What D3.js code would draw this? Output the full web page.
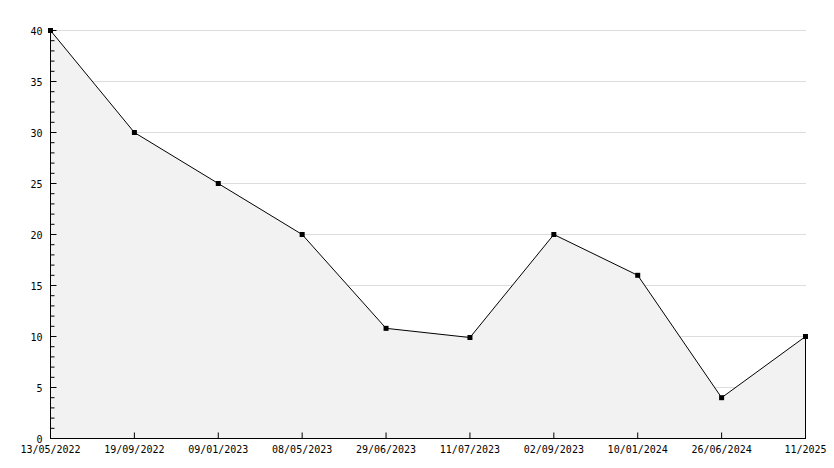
<!DOCTYPE html>
<html><head><meta charset="utf-8">
<script src="https://cdn.jsdelivr.net/npm/d3@7"></script>
<style>body{margin:0;background:#fff}text{font-family:"DejaVu Sans Mono",monospace;font-size:10px}</style>
</head><body>
<svg id="chart" width="834" height="468"></svg>
<script>
var dates = ["13/05/2022","19/09/2022","09/01/2023","08/05/2023","29/06/2023","11/07/2023","02/09/2023","10/01/2024","26/06/2024","11/2025"];
var values = [40, 30, 25, 20, 10.8, 9.9, 20, 16, 4, 10];
var yTicks = [0,5,10,15,20,25,30,35,40];

var svg = d3.select("#chart");
var x = d3.scalePoint().domain(dates).range([50.5, 805.5]);
var y = d3.scaleLinear().domain([0, 40]).range([438.5, 30.5]);

// grid
svg.append("g").selectAll("line").data(yTicks.slice(1)).join("line")
  .attr("x1", 50).attr("x2", 806).attr("y1", d => y(d)).attr("y2", d => y(d))
  .attr("stroke", "#ddd");

var area = d3.area().x((d,i) => x(dates[i])).y0(y(0)).y1(d => y(d));
svg.append("path").datum(values).attr("d", area).attr("fill", "#f2f2f2");
svg.append("line").attr("x1", x(dates[9])).attr("x2", x(dates[9]))
  .attr("y1", y(values[9])).attr("y2", y(0)).attr("stroke", "#000");

// y axis
var ya = svg.append("g").attr("transform", "translate(50.5,0)");
ya.append("line").attr("y1", y(40)).attr("y2", y(0)).attr("stroke", "#000");
ya.selectAll(".mi").data(d3.range(0, 41)).join("line")
  .attr("x1", 0).attr("x2", d => d % 5 ? 4 : 6)
  .attr("y1", d => y(d)).attr("y2", d => y(d)).attr("stroke", "#000");
ya.selectAll("text").data(yTicks).join("text")
  .attr("x", -8).attr("y", d => y(d) + 4).attr("text-anchor", "end").text(d => d);

// x axis
var xa = svg.append("g");
xa.append("line").attr("x1", 50).attr("x2", 806).attr("y1", y(0)).attr("y2", y(0)).attr("stroke", "#000");
xa.selectAll(".t").data(dates).join("line")
  .attr("x1", d => x(d)).attr("x2", d => x(d)).attr("y1", y(0)).attr("y2", y(0) - 6).attr("stroke", "#000");
xa.selectAll("text").data(dates).join("text")
  .attr("x", d => x(d)).attr("y", 453).attr("text-anchor", "middle").text(d => d);

var line = d3.line().x((d,i) => x(dates[i])).y(d => y(d));
svg.append("path").datum(values).attr("d", line).attr("fill", "none").attr("stroke", "#000");
svg.selectAll(".pt").data(values).join("rect")
  .attr("x", (d,i) => x(dates[i]) - 2.5).attr("y", d => y(d) - 2.5)
  .attr("width", 5).attr("height", 5).attr("fill", "#000");
</script>
</body></html>
